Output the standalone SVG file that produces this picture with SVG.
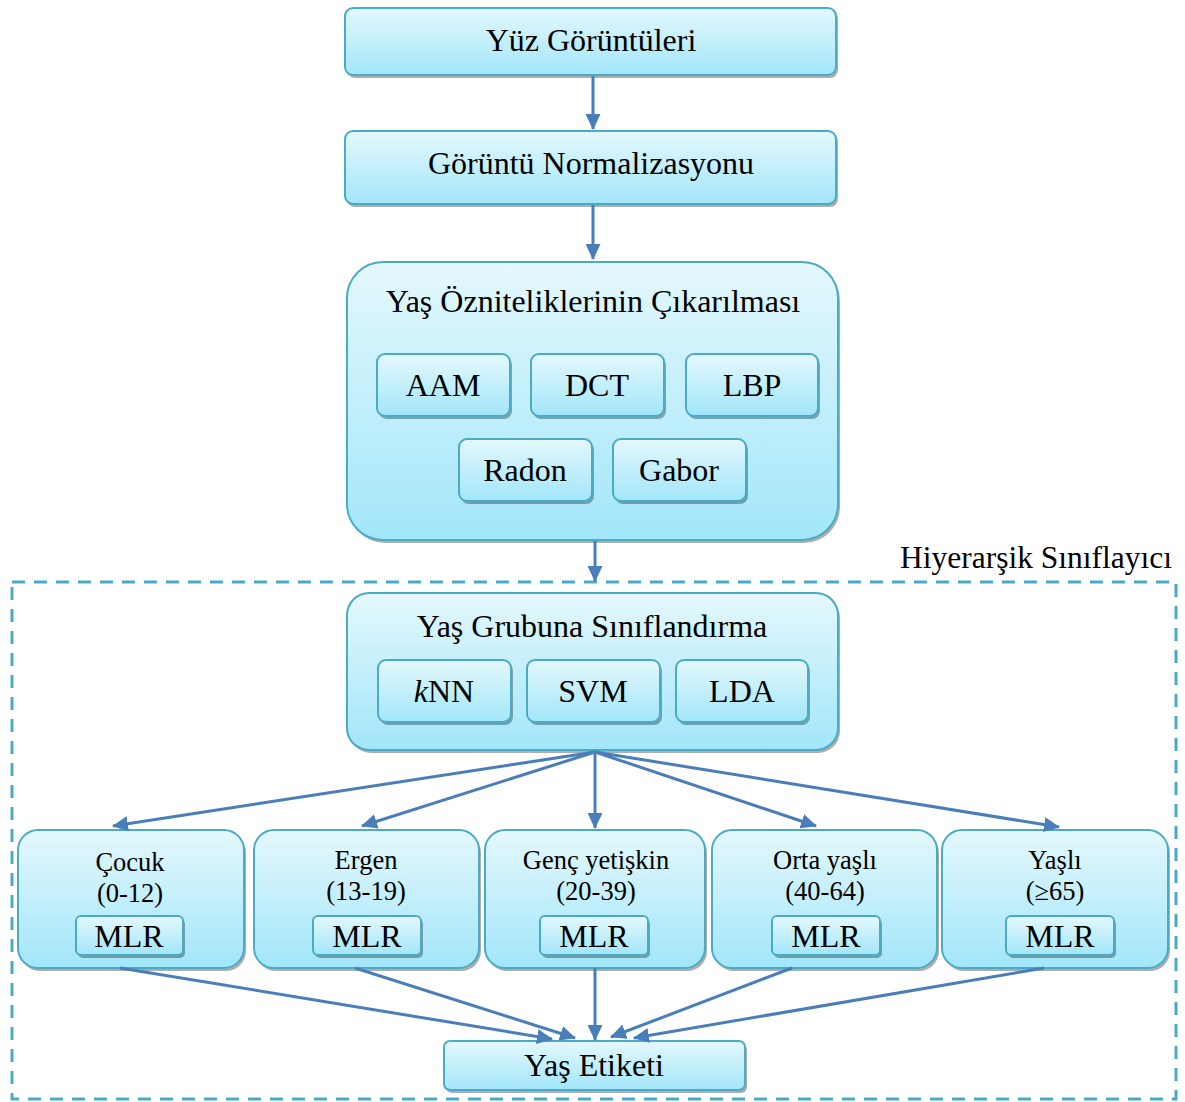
<svg xmlns="http://www.w3.org/2000/svg" width="1185" height="1102" viewBox="0 0 1185 1102">
  <defs>
    <linearGradient id="fillGrad" x1="0" y1="0" x2="0" y2="1">
      <stop offset="0" stop-color="#e4f8fd"/>
      <stop offset="1" stop-color="#a2e6fa"/>
    </linearGradient>
    <marker id="arrow" markerUnits="userSpaceOnUse" markerWidth="16" markerHeight="15" refX="15" refY="7.5" orient="auto">
      <path d="M0,0 L16,7.5 L0,15 z" fill="#4a7ebb"/>
    </marker>
    <style>
      .box { fill: url(#fillGrad); stroke: #4aabc6; stroke-width: 2; }
      .shadow { fill: #000; opacity: 0.32; }
      .lbl { font-family: "Liberation Serif", "Times New Roman", serif; fill: #000; text-anchor: middle; }
      .big { font-size: 32px; }
      .mid { font-size: 26.5px; }
      .conn { stroke: #4a7ebb; stroke-width: 3; fill: none; marker-end: url(#arrow); }
      .frame { fill: none; stroke: #4aabc6; stroke-width: 3; stroke-dasharray: 13 9; }
    </style>
  </defs>

  <rect width="1185" height="1102" fill="#fff"/>

  <!-- hierarchical classifier frame -->
  <g id="frame">
    <rect class="frame" x="12" y="582" width="1164" height="517"/>
    <text class="lbl" x="1172" y="568" font-size="31.5" style="text-anchor:end">Hiyerarşik Sınıflayıcı</text>
  </g>

  <!-- input -->
  <g id="yuz">
    <rect class="shadow" x="347" y="11" width="491" height="67" rx="8"/>
    <rect class="box" x="345" y="8" width="491" height="67" rx="8"/>
    <text class="lbl big" x="591" y="51">Yüz Görüntüleri</text>
  </g>

  <g id="normalizasyon">
    <rect class="shadow" x="347" y="134" width="491" height="73" rx="8"/>
    <rect class="box" x="345" y="131" width="491" height="73" rx="8"/>
    <text class="lbl big" x="591" y="174">Görüntü Normalizasyonu</text>
  </g>

  <!-- feature extraction -->
  <g id="oznitelik">
    <rect class="shadow" x="349" y="265" width="491" height="278" rx="36"/>
    <rect class="box" x="347" y="262" width="491" height="278" rx="36"/>
    <text class="lbl big" x="593" y="312">Yaş Özniteliklerinin Çıkarılması</text>
    <g id="aam">
      <rect class="shadow" x="379" y="357" width="133" height="62" rx="8"/>
      <rect class="box" x="377" y="354" width="133" height="62" rx="8"/>
      <text class="lbl big" x="443" y="396">AAM</text>
    </g>
    <g id="dct">
      <rect class="shadow" x="533" y="357" width="133" height="62" rx="8"/>
      <rect class="box" x="531" y="354" width="133" height="62" rx="8"/>
      <text class="lbl big" x="597" y="396">DCT</text>
    </g>
    <g id="lbp">
      <rect class="shadow" x="688" y="357" width="132" height="62" rx="8"/>
      <rect class="box" x="686" y="354" width="132" height="62" rx="8"/>
      <text class="lbl big" x="752" y="396">LBP</text>
    </g>
    <g id="radon">
      <rect class="shadow" x="461" y="442" width="133" height="62" rx="8"/>
      <rect class="box" x="459" y="439" width="133" height="62" rx="8"/>
      <text class="lbl big" x="525" y="481">Radon</text>
    </g>
    <g id="gabor">
      <rect class="shadow" x="615" y="442" width="133" height="62" rx="8"/>
      <rect class="box" x="613" y="439" width="133" height="62" rx="8"/>
      <text class="lbl big" x="679" y="481">Gabor</text>
    </g>
  </g>

  <!-- age group classification -->
  <g id="yasgrubu">
    <rect class="shadow" x="349" y="596" width="491" height="157" rx="22"/>
    <rect class="box" x="347" y="593" width="491" height="157" rx="22"/>
    <text class="lbl big" x="592" y="637">Yaş Grubuna Sınıflandırma</text>
    <g id="knn">
      <rect class="shadow" x="380" y="663" width="133" height="62" rx="8"/>
      <rect class="box" x="378" y="660" width="133" height="62" rx="8"/>
      <text class="lbl big" x="444" y="702"><tspan font-style="italic">k</tspan>NN</text>
    </g>
    <g id="svm">
      <rect class="shadow" x="529" y="663" width="133" height="62" rx="8"/>
      <rect class="box" x="527" y="660" width="133" height="62" rx="8"/>
      <text class="lbl big" x="593" y="702">SVM</text>
    </g>
    <g id="lda">
      <rect class="shadow" x="678" y="663" width="132" height="62" rx="8"/>
      <rect class="box" x="676" y="660" width="132" height="62" rx="8"/>
      <text class="lbl big" x="742" y="702">LDA</text>
    </g>
  </g>

  <!-- age groups -->
  <g id="cocuk">
    <rect class="shadow" x="20" y="833" width="226" height="138" rx="20"/>
    <rect class="box" x="18" y="830" width="226" height="138" rx="20"/>
    <text class="lbl mid" x="130" y="871">Çocuk</text>
    <text class="lbl mid" x="130" y="902">(0-12)</text>
    <rect class="shadow" x="78" y="919" width="107" height="39" rx="5"/>
    <rect class="box" x="76" y="916" width="107" height="39" rx="5"/>
    <text class="lbl big" x="129" y="947">MLR</text>
  </g>
  <g id="ergen">
    <rect class="shadow" x="256" y="833" width="225" height="138" rx="20"/>
    <rect class="box" x="254" y="830" width="225" height="138" rx="20"/>
    <text class="lbl mid" x="366" y="869">Ergen</text>
    <text class="lbl mid" x="366" y="900">(13-19)</text>
    <rect class="shadow" x="315" y="919" width="108" height="39" rx="5"/>
    <rect class="box" x="313" y="916" width="108" height="39" rx="5"/>
    <text class="lbl big" x="367" y="947">MLR</text>
  </g>
  <g id="genc">
    <rect class="shadow" x="487" y="833" width="220" height="138" rx="20"/>
    <rect class="box" x="485" y="830" width="220" height="138" rx="20"/>
    <text class="lbl mid" x="596" y="869">Genç yetişkin</text>
    <text class="lbl mid" x="596" y="900">(20-39)</text>
    <rect class="shadow" x="542" y="919" width="108" height="39" rx="5"/>
    <rect class="box" x="540" y="916" width="108" height="39" rx="5"/>
    <text class="lbl big" x="594" y="947">MLR</text>
  </g>
  <g id="orta">
    <rect class="shadow" x="714" y="833" width="225" height="138" rx="20"/>
    <rect class="box" x="712" y="830" width="225" height="138" rx="20"/>
    <text class="lbl mid" x="825" y="869">Orta yaşlı</text>
    <text class="lbl mid" x="825" y="900">(40-64)</text>
    <rect class="shadow" x="774" y="919" width="108" height="39" rx="5"/>
    <rect class="box" x="772" y="916" width="108" height="39" rx="5"/>
    <text class="lbl big" x="826" y="947">MLR</text>
  </g>
  <g id="yasli">
    <rect class="shadow" x="944" y="833" width="226" height="138" rx="20"/>
    <rect class="box" x="942" y="830" width="226" height="138" rx="20"/>
    <text class="lbl mid" x="1055" y="869">Yaşlı</text>
    <text class="lbl mid" x="1055" y="900">(≥65)</text>
    <rect class="shadow" x="1008" y="919" width="108" height="39" rx="5"/>
    <rect class="box" x="1006" y="916" width="108" height="39" rx="5"/>
    <text class="lbl big" x="1060" y="947">MLR</text>
  </g>

  <!-- output -->
  <g id="etiket">
    <rect class="shadow" x="446" y="1044" width="301" height="49" rx="6"/>
    <rect class="box" x="444" y="1041" width="301" height="49" rx="6"/>
    <text class="lbl big" x="594" y="1076">Yaş Etiketi</text>
  </g>

  <!-- connectors -->
  <g id="connectors">
    <line class="conn" x1="593" y1="76" x2="593" y2="129"/>
    <line class="conn" x1="593" y1="205" x2="593" y2="259"/>
    <line class="conn" x1="595" y1="541" x2="595" y2="581"/>
    <line class="conn" x1="595" y1="752" x2="113" y2="826"/>
    <line class="conn" x1="595" y1="752" x2="362" y2="826"/>
    <line class="conn" x1="595" y1="752" x2="595" y2="828"/>
    <line class="conn" x1="595" y1="752" x2="816" y2="826"/>
    <line class="conn" x1="595" y1="752" x2="1059" y2="827"/>
    <line class="conn" x1="120" y1="968" x2="552" y2="1039"/>
    <line class="conn" x1="355" y1="968" x2="575" y2="1038"/>
    <line class="conn" x1="595" y1="968" x2="595" y2="1040"/>
    <line class="conn" x1="792" y1="968" x2="611" y2="1037"/>
    <line class="conn" x1="1044" y1="968" x2="634" y2="1038"/>
  </g>
</svg>
